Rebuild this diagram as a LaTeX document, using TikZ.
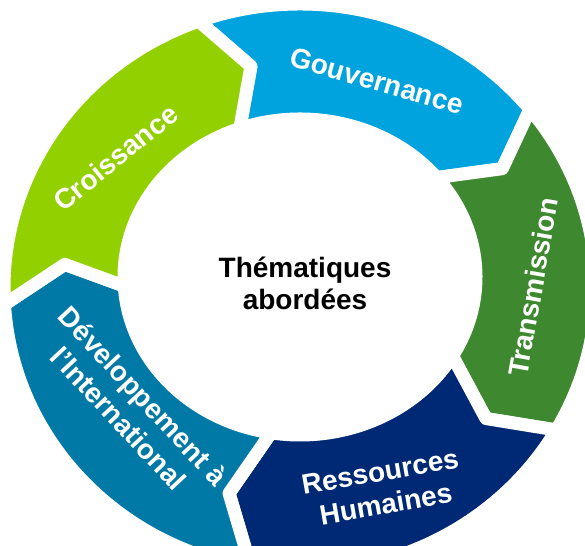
\documentclass[tikz,border=0pt]{standalone}
\usepackage{fontspec}
\setmainfont{Liberation Sans}
\usetikzlibrary{positioning}

\definecolor{croissance}{RGB}{146,208,0}
\definecolor{gouvernance}{RGB}{0,163,222}
\definecolor{transmission}{RGB}{62,137,47}
\definecolor{ressources}{RGB}{0,41,117}
\definecolor{developpement}{RGB}{0,121,166}

% ring geometry (1 unit = 1pt)
\def\ringcx{300}
\def\outcy{257}\def\outrx{296}\def\outry{284}
\def\incy{268}\def\inrx{176}\def\inry{158}
\def\midcy{262.5}\def\midrx{236}\def\midry{221}
\def\tipang{8}

% one chevron piece of the ring, from angle #1 down to angle #2
\newcommand{\ringarrow}[3]{%
  \filldraw[ringpiece,fill=#3]
    ({\ringcx+\outrx*cos(#1)},{\outcy+\outry*sin(#1)})
    arc[start angle=#1,end angle=#2,x radius=\outrx,y radius=\outry]
    -- ({\ringcx+\midrx*cos(#2-\tipang)},{\midcy+\midry*sin(#2-\tipang)})
    -- ({\ringcx+\inrx*cos(#2)},{\incy+\inry*sin(#2)})
    arc[start angle=#2,end angle=#1,x radius=\inrx,y radius=\inry]
    -- ({\ringcx+\midrx*cos(#1-\tipang)},{\midcy+\midry*sin(#1-\tipang)})
    -- cycle;}

\begin{document}
\begin{tikzpicture}[x=1pt,y=1pt,
  ringpiece/.style={draw=white,line width=13pt,line join=round},
  ringlabel/.style={text=white,font=\bfseries\fontsize{28}{33}\selectfont,align=center}]
\useasboundingbox (0,0) rectangle (585,545);
\clip (0,0) rectangle (585,545);

% Ring pieces
\ringarrow{110}{39}{gouvernance}
\ringarrow{39}{-30}{transmission}
\ringarrow{-30}{-99.5}{ressources}
\ringarrow{260.5}{183.3}{developpement}
\ringarrow{183.3}{110}{croissance}

% Labels
\node[ringlabel,rotate=-16] (gouv) at (377,464) {Gouvernance};
\node[ringlabel,rotate=80] (trans) at (533,258) {Transmission};
\node[ringlabel,rotate=10] (rh) at (383,57) {Ressources\\Humaines};
\node[ringlabel,rotate=-47] (dev) at (131,138) {Développement à\\l'International};
\node[ringlabel,rotate=39] (crois) at (115.5,387.5) {Croissance};

% Centre
\node[font=\bfseries\fontsize{28}{32}\selectfont,align=center] (theme) at (305,262) {Thématiques\\abordées};
\end{tikzpicture}
\end{document}
